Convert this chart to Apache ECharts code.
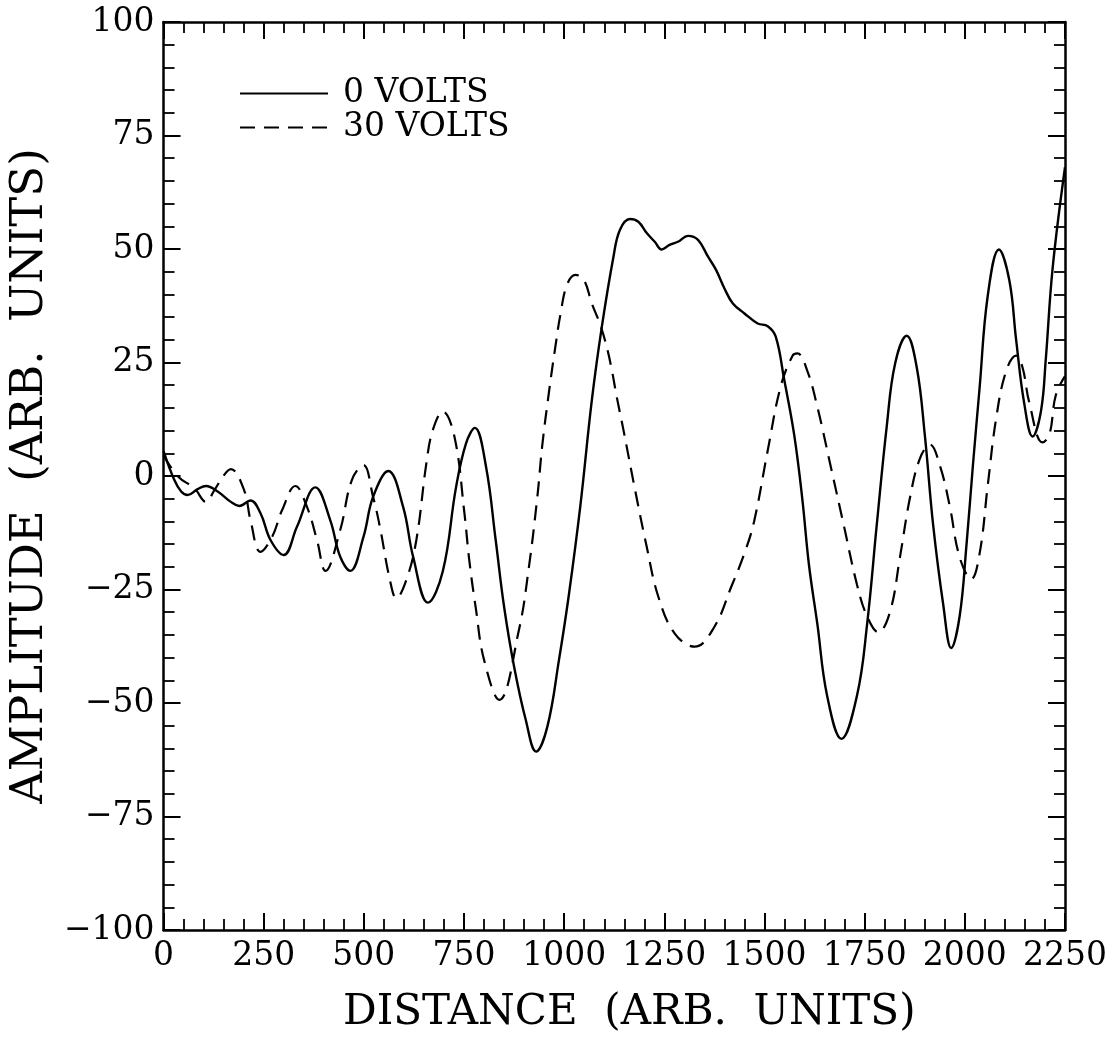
<!DOCTYPE html>
<html>
<head>
<meta charset="utf-8">
<script src="https://cdn.jsdelivr.net/npm/echarts@6/dist/echarts.min.js"></script>
<style>
html,body{margin:0;padding:0;background:#fff;}
#chart{width:1110px;height:1043px;}
</style>
</head>
<body>
<div id="chart"></div>
<script>
// ---- data ----
var xTicks = [0, 250, 500, 750, 1000, 1250, 1500, 1750, 2000, 2250];
var yTicks = [-100, -75, -50, -25, 0, 25, 50, 75, 100];

var seriesNames = ['0 VOLTS', '30 VOLTS'];

var solidX = [0, 27, 44, 60, 85, 106, 135, 168, 189, 217, 242, 267, 300, 333, 379, 416, 441, 466, 499, 523, 561, 598, 623, 660, 697, 730, 755, 777, 805, 829, 850, 875, 904, 930, 958, 987, 1011, 1040, 1069, 1094, 1123, 1139, 1164, 1185, 1206, 1226, 1243, 1263, 1284, 1309, 1334, 1359, 1379, 1400, 1421, 1450, 1483, 1508, 1528, 1549, 1574, 1594, 1611, 1632, 1656, 1692, 1731, 1756, 1780, 1805, 1826, 1855, 1880, 1900, 1921, 1946, 1966, 1987, 2004, 2020, 2037, 2057, 2085, 2111, 2128, 2148, 2169, 2190, 2202, 2219, 2250];
var solidY = [5.5, -0.9, -3.4, -4.2, -2.9, -2.2, -3.4, -5.7, -6.6, -5.4, -8.2, -14.1, -17.4, -11.2, -2.5, -9.7, -17.8, -20.9, -13.4, -4.6, 1.1, -6.8, -17.8, -27.9, -21, -2.5, 7.2, 10.6, 2, -14.1, -28.8, -42, -53.7, -60.7, -55.2, -40.5, -26.6, -6.8, 16.7, 32.9, 48.3, 54.2, 56.6, 56, 53.5, 51.6, 49.9, 50.9, 51.6, 52.9, 52, 48.3, 45.4, 41.3, 38, 35.8, 33.6, 33, 30.7, 21.3, 9.1, -4.8, -19.6, -32.7, -48.3, -57.9, -48.3, -32.7, -10.9, 10.9, 24.8, 30.9, 23.9, 9.1, -10.9, -28.3, -37.9, -30.9, -15.3, 2.2, 19.6, 39.6, 49.9, 43.1, 30, 16.1, 8.7, 14.3, 25.7, 45.7, 68];

var dashedX = [0, 36, 77, 106, 127, 151, 168, 201, 217, 242, 271, 296, 329, 358, 383, 404, 441, 470, 499, 523, 540, 565, 581, 606, 631, 656, 672, 697, 726, 751, 763, 780, 800, 838, 887, 912, 933, 945, 962, 978, 991, 1007, 1028, 1049, 1069, 1090, 1106, 1119, 1131, 1148, 1177, 1206, 1235, 1276, 1326, 1375, 1417, 1450, 1474, 1508, 1540, 1570, 1582, 1607, 1632, 1665, 1698, 1731, 1756, 1784, 1813, 1838, 1863, 1888, 1913, 1938, 1962, 1987, 2016, 2037, 2057, 2078, 2103, 2128, 2144, 2161, 2194, 2211, 2227, 2250];
var dashedY = [4.5, -0.1, -2.7, -5.7, -3.1, 0.2, 1.5, -3.1, -9.7, -16.7, -13.4, -7.5, -2.2, -6.8, -14.1, -20.9, -11.9, -0.9, 2.4, -4.6, -11.2, -22.9, -26.9, -22.9, -14.1, 2.8, 10.1, 14.2, 8.7, -8.2, -18.5, -29.5, -40.5, -49.3, -33.9, -20, -4.6, 6.5, 18.5, 28.5, 35.8, 42.1, 44.3, 43.2, 38, 33.3, 28.5, 23.3, 17.5, 10.1, -3.1, -15.6, -26.6, -34.7, -37.6, -33.2, -24.4, -17, -10, 5.6, 19.6, 26.5, 27, 23.1, 15.2, 2.2, -10.9, -24, -30.9, -34.4, -30, -17.9, -4.8, 3.9, 6.9, 2.2, -6.5, -17.9, -22.7, -17, -2.2, 12.6, 23.1, 26.5, 23.9, 16.1, 7.4, 9.1, 17.8, 22];

function pairs(xs, ys) {
  var out = [];
  for (var i = 0; i < xs.length; i++) out.push([xs[i], ys[i]]);
  return out;
}

var FONT = 'DejaVu Serif';
var tickCommon = {
  axisTick: { show: true, inside: true, length: 17, lineStyle: { color: '#000', width: 2 } },
  minorTick: { show: true, splitNumber: 5, length: 11, lineStyle: { color: '#000', width: 1.8 } },
  axisLine: { show: true, onZero: false, lineStyle: { color: '#000', width: 2.5 } },
  splitLine: { show: false },
  minorSplitLine: { show: false }
};

function axis(extra) {
  return Object.assign({}, JSON.parse(JSON.stringify(tickCommon)), extra);
}

var chart = echarts.init(document.getElementById('chart'), null, { renderer: 'canvas' });

var option = {
  backgroundColor: '#fff',
  animation: false,
  grid: { left: 159, right: 44, top: 22, bottom: 113, containLabel: false },
  legend: {
    orient: 'vertical',
    left: 234,
    top: 72,
    itemWidth: 88,
    itemHeight: 14,
    itemGap: 1,
    data: seriesNames,
    itemStyle: { opacity: 0 },
    textStyle: { fontFamily: FONT, fontSize: 33, color: '#000', padding: [0, 0, 0, 10] },
    inactiveColor: '#000'
  },
  xAxis: [
    axis({
      type: 'value', position: 'bottom', min: xTicks[0], max: xTicks[xTicks.length - 1], interval: 250,
      name: 'DISTANCE  (ARB.  UNITS)', nameLocation: 'middle', nameGap: 62,
      nameTextStyle: { fontFamily: FONT, fontSize: 42, color: '#000', padding: [0, 0, 0, 30] },
      axisLabel: { show: true, margin: 10, fontFamily: FONT, fontSize: 33, color: '#000',
        formatter: function (v) { return String(v); } }
    }),
    axis({
      type: 'value', position: 'top', min: xTicks[0], max: xTicks[xTicks.length - 1], interval: 250,
      axisLabel: { show: false }
    })
  ],
  yAxis: [
    axis({
      type: 'value', position: 'left', min: yTicks[0], max: yTicks[yTicks.length - 1], interval: 25,
      name: 'AMPLITUDE  (ARB.  UNITS)', nameLocation: 'middle', nameGap: 96,
      nameTextStyle: { fontFamily: FONT, fontSize: 45, color: '#000' },
      axisLabel: {
        show: true, margin: 9, fontFamily: FONT, fontSize: 33, color: '#000',
        formatter: function (v) { return v < 0 ? '\u2212' + Math.abs(v) : String(v); }
      }
    }),
    axis({
      type: 'value', position: 'right', min: yTicks[0], max: yTicks[yTicks.length - 1], interval: 25,
      axisLabel: { show: false }
    })
  ],
  series: [
    {
      name: seriesNames[0], type: 'line', xAxisIndex: 0, yAxisIndex: 0,
      data: pairs(solidX, solidY), showSymbol: false, symbol: 'none', smooth: 0.4,
      lineStyle: { color: '#000', width: 2.4, type: 'solid' },
      itemStyle: { color: '#000' }
    },
    {
      name: seriesNames[1], type: 'line', xAxisIndex: 0, yAxisIndex: 0,
      data: pairs(dashedX, dashedY), showSymbol: false, symbol: 'none', smooth: 0.4,
      lineStyle: { color: '#000', width: 2.2, type: [15, 9] },
      itemStyle: { color: '#000' }
    }
  ]
};
chart.setOption(option);
</script>
</body>
</html>
